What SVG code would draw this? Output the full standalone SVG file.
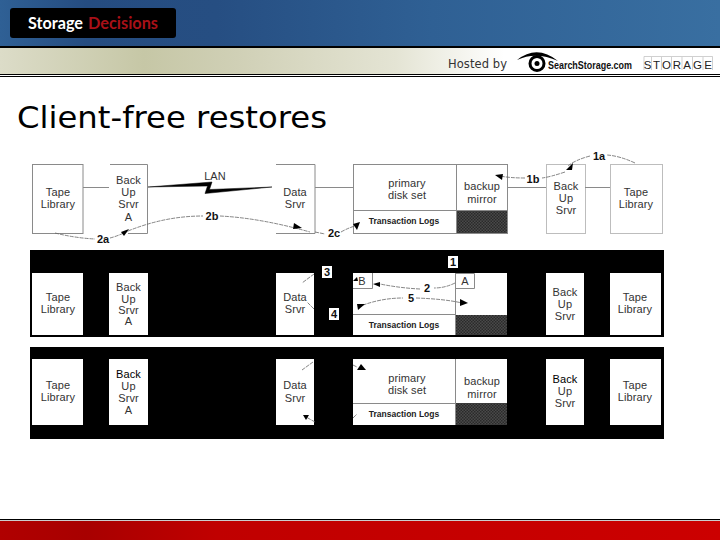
<svg xmlns="http://www.w3.org/2000/svg" width="720" height="540" viewBox="0 0 720 540">
<style>
.s{font-family:"Liberation Sans",Arial,sans-serif;font-size:11px;letter-spacing:.1px;fill:#333;text-anchor:middle}
.t{font-family:"Liberation Sans",Arial,sans-serif;font-size:8.500px;font-weight:bold;fill:#222;text-anchor:middle}
.l{font-family:"Liberation Sans",Arial,sans-serif;font-size:11px;font-weight:bold;fill:#111;text-anchor:middle}
.box{fill:#fff;stroke:#8a8a8a;stroke-width:1}
.pale{fill:#fff;stroke:#bdbdbd;stroke-width:1}
.wb{fill:#fff}
.ln{fill:none;stroke:#8a8a8a;stroke-width:1}
.da{fill:none;stroke:#666;stroke-width:.8;stroke-dasharray:4 1}
.ah{fill:#000}
</style>
<defs>
<linearGradient id="blue" x1="0" x2="1" y1="0" y2="0"><stop offset="0" stop-color="#2f6095"/><stop offset=".12" stop-color="#254c80"/><stop offset=".3" stop-color="#264e82"/><stop offset=".6" stop-color="#2f6094"/><stop offset="1" stop-color="#396fa1"/></linearGradient>
<linearGradient id="beige" x1="0" x2="1" y1="0" y2="0"><stop offset="0" stop-color="#dcdcc8"/><stop offset=".2" stop-color="#c6c7a6"/><stop offset=".33" stop-color="#d0d0b6"/><stop offset=".55" stop-color="#e4e4d4"/><stop offset=".7" stop-color="#fff"/></linearGradient>
<linearGradient id="red" x1="0" x2="1" y1="0" y2="0"><stop offset="0" stop-color="#b00000"/><stop offset=".12" stop-color="#a80000"/><stop offset=".3" stop-color="#c00000"/><stop offset="1" stop-color="#cc0000"/></linearGradient>
<pattern id="chk" width="3" height="3" patternUnits="userSpaceOnUse"><rect width="3" height="3" fill="#4a4a4a"/><rect width="1.500" height="1.500" fill="#2a2a2a"/><rect x="1.500" y="1.500" width="1.500" height="1.500" fill="#2a2a2a"/></pattern>
</defs>

<g id="header">
<rect x="0" y="0" width="720" height="46" fill="url(#blue)"/>
<rect x="0" y="46" width="720" height="2" fill="#000"/>
<rect x="0" y="48" width="720" height="26" fill="url(#beige)"/>
<rect x="0" y="74" width="720" height="1" fill="#000"/>
<rect x="0" y="76" width="720" height="1" fill="#000"/>
<rect x="10" y="8" width="166" height="30" rx="3" fill="#000"/>
<text x="28" y="29" font-family="Lato,'Liberation Sans',sans-serif" font-size="17" font-weight="bold" fill="#fff" textLength="55" lengthAdjust="spacingAndGlyphs">Storage</text>
<text x="88" y="29" font-family="Lato,'Liberation Sans',sans-serif" font-size="17" font-weight="bold" fill="#a81018" textLength="70" lengthAdjust="spacingAndGlyphs">Decisions</text>
<text x="448" y="68" font-family="'DejaVu Sans',sans-serif" font-size="11.500" fill="#333" textLength="59">Hosted by</text>
<path d="M517 60Q537 44 558 61Q536 51 517 60Z" fill="#000"/>
<circle cx="537" cy="63.500" r="7" fill="none" stroke="#000" stroke-width="3"/>
<circle cx="537" cy="63.500" r="2.500" fill="#000"/>
<text x="548" y="69" font-family="'Liberation Sans',sans-serif" font-size="10" font-weight="bold" fill="#111" textLength="84" lengthAdjust="spacingAndGlyphs">SearchStorage.com</text>
<path d="M644 70V56.500H712.500V70M651.500 57V70M661.500 57V70M671.500 57V70M682 57V70M692.500 57V70M703 57V70" fill="none" stroke="#bbb" stroke-width=".7"/>
<text x="647.500 656.500 666.500 677 687 697.500 708" y="68.500" font-family="'Liberation Sans',sans-serif" font-size="11.500" fill="#222" text-anchor="middle">STORAGE</text>
</g>

<text id="title" x="17" y="128" font-family="'DejaVu Sans',sans-serif" font-size="31" fill="#000" textLength="310" lengthAdjust="spacingAndGlyphs">Client-free restores</text>

<g id="bands">
<rect x="30" y="250" width="634" height="87" fill="#000"/>
<rect x="30" y="347" width="634" height="92" fill="#000"/>
</g>

<g id="row1">
<g id="r1-tape-a"><rect class="box" x="32.500" y="164.500" width="50.500" height="69"/><text class="s" x="58" y="196">Tape</text><text class="s" x="58" y="208">Library</text></g>
<g id="r1-back-a"><path class="ln" d="M110 164.500H147.500V233.500H128"/><text class="s" x="128.500" y="184">Back</text><text class="s" x="128.500" y="196">Up</text><text class="s" x="128.500" y="208">Srvr</text><text class="s" x="128.500" y="221">A</text></g>
<g id="r1-data"><path class="ln" d="M276 164.500H315V233.500H276"/><text class="s" x="295" y="196">Data</text><text class="s" x="295" y="208">Srvr</text></g>
<g id="r1-disk"><rect class="box" x="353.500" y="164.500" width="154" height="69"/><path class="ln" d="M456.500 164V233M353 210.500H507"/><rect x="457" y="211" width="50" height="22" fill="url(#chk)"/><text class="s" x="407" y="187">primary</text><text class="s" x="407" y="199">disk set</text><text class="s" x="482" y="190">backup</text><text class="s" x="482" y="203">mirror</text><text class="t" x="404" y="224">Transaction Logs</text></g>
<g id="r1-back-b"><rect class="pale" x="546.500" y="164.500" width="39" height="69"/><text class="s" x="566" y="190">Back</text><text class="s" x="566" y="202">Up</text><text class="s" x="566" y="214">Srvr</text></g>
<g id="r1-tape-b"><rect class="pale" x="610.500" y="164.500" width="52" height="69"/><text class="s" x="636" y="196">Tape</text><text class="s" x="636" y="208">Library</text></g>
<text class="s" x="215" y="180">LAN</text>
</g>

<g id="row2">
<g id="r2-tape-a"><rect class="wb" x="32" y="273" width="51" height="62"/><text class="s" x="58" y="301">Tape</text><text class="s" x="58" y="313">Library</text></g>
<g id="r2-back-a"><rect class="wb" x="109" y="273" width="39" height="62"/><text class="s" x="128.500" y="291">Back</text><text class="s" x="128.500" y="303">Up</text><text class="s" x="128.500" y="314">Srvr</text><text class="s" x="128.500" y="325">A</text></g>
<g id="r2-data"><rect class="wb" x="276" y="273" width="38" height="62"/><text class="s" x="295" y="301">Data</text><text class="s" x="295" y="313">Srvr</text></g>
<g id="r2-disk"><rect class="wb" x="353" y="273" width="154" height="62"/><path class="ln" d="M455.500 273V335"/><path class="ln" d="M353 314.500H456"/><rect x="456" y="315" width="51" height="20" fill="url(#chk)"/><text class="t" x="404" y="328">Transaction Logs</text></g>
<g id="r2-a"><path class="ln" d="M455.500 273.500H474.500V288.500H455.500"/><text class="s" x="465" y="285">A</text></g>
<g id="r2-b"><path class="ln" d="M353 288.500H372.500V273"/><text class="s" x="362" y="285">B</text></g>
<g id="r2-back-b"><rect class="wb" x="546" y="273" width="38" height="62"/><text class="s" x="565" y="296">Back</text><text class="s" x="565" y="308">Up</text><text class="s" x="565" y="320">Srvr</text></g>
<g id="r2-tape-b"><rect class="wb" x="610" y="273" width="51" height="62"/><text class="s" x="635" y="301">Tape</text><text class="s" x="635" y="313">Library</text></g>
</g>

<g id="row3">
<g id="r3-tape-a"><rect class="wb" x="32" y="359" width="51" height="66"/><text class="s" x="58" y="389">Tape</text><text class="s" x="58" y="401">Library</text></g>
<g id="r3-back-a"><rect class="wb" x="109" y="359" width="39" height="66"/><text class="s" x="128.500" y="378" style="fill:#000">Back</text><text class="s" x="128.500" y="390">Up</text><text class="s" x="128.500" y="402">Srvr</text><text class="s" x="128.500" y="414">A</text></g>
<g id="r3-data"><rect class="wb" x="276" y="359" width="38" height="66"/><text class="s" x="295" y="389">Data</text><text class="s" x="295" y="402">Srvr</text></g>
<g id="r3-disk"><rect class="wb" x="353" y="359" width="154" height="66"/><path class="ln" d="M455.500 359V425M353 403.500H456"/><rect x="456" y="403" width="51" height="22" fill="url(#chk)"/><text class="s" x="407" y="382">primary</text><text class="s" x="407" y="394">disk set</text><text class="s" x="482" y="385">backup</text><text class="s" x="482" y="398">mirror</text><text class="t" x="404" y="417">Transaction Logs</text></g>
<g id="r3-back-b"><rect class="wb" x="546" y="359" width="38" height="66"/><text class="s" x="565" y="383" style="fill:#000">Back</text><text class="s" x="565" y="395">Up</text><text class="s" x="565" y="407">Srvr</text></g>
<g id="r3-tape-b"><rect class="wb" x="610" y="359" width="51" height="66"/><text class="s" x="635" y="389">Tape</text><text class="s" x="635" y="401">Library</text></g>
</g>

<g id="connectors">
<path class="ln" d="M83 187.500H109M315 187.500H353M507 187.500H546M585 187.500H610"/>
<path d="M148 187L212 182L209.500 189.500L272 187L205 193.500L207.500 186Z" fill="#000" stroke="#000" stroke-width=".5"/>
<path class="da" d="M55 233Q75 238 95 239"/><path class="da" d="M110 238Q118 236 128 231"/><path class="ah" d="M121 232L129 229L124 236Z"/>
<path class="da" d="M128 231Q165 216 203 216"/><path class="da" d="M220 216Q260 218 310 232"/><path class="ah" d="M294 223L302 228L293 229Z"/>
<path class="da" d="M315 232L325 234"/><path class="da" d="M341 232Q348 228 355 226"/><path class="ah" d="M353 224L360 222L357 230Z"/>
<path class="da" d="M635 163Q620 156 607 155"/><path class="da" d="M590 156Q575 160 568 166"/><path class="ah" d="M566 170L573 163L572 170Z"/>
<path class="da" d="M565 172Q550 177 542 178"/><path class="da" d="M525 178Q510 178 500 176"/><path class="ah" d="M495 175L503 174L502 180Z"/>
<path class="da" d="M314 274L302 283M314 309L307 302"/>
<path class="da" d="M455 283Q445 288 434 288"/><path class="da" d="M420 289Q400 288 380 284"/><path class="ah" d="M373 284L380 282L380 287Z"/>
<path class="da" d="M358 307Q380 298 403 298"/><path class="da" d="M416 298Q445 299 462 303"/><path class="ah" d="M460 299L468 303L460 306Z"/><path class="ah" d="M357 304L365 304L358 310Z"/>
<path class="ah" d="M353 281L357 277L358 281Z"/>
<path class="da" d="M313 362L302 370M315 422L306 417"/><path class="ah" d="M303 415L309 415L306 420Z"/>
<path class="da" d="M353 365L357 367M353 418L357 414"/><path class="ah" d="M357 370L361 364L366 370Z"/>
</g>

<g id="labels">
<g id="l1a"><text class="l" x="599" y="159.500">1a</text></g>
<g id="l1b"><text class="l" x="533" y="182.500">1b</text></g>
<g id="l2a"><text class="l" x="103" y="243">2a</text></g>
<g id="l2b"><text class="l" x="212" y="219.500">2b</text></g>
<g id="l2c"><text class="l" x="334" y="237">2c</text></g>
<g id="l1"><rect x="448" y="256" width="10" height="12" fill="#fff"/><text class="l" x="453" y="266">1</text></g>
<g id="l3"><rect x="322" y="266" width="10" height="12" fill="#fff"/><text class="l" x="327" y="276">3</text></g>
<g id="l4"><rect x="329" y="308" width="10" height="12" fill="#fff"/><text class="l" x="334" y="318">4</text></g>
<text class="l" x="427" y="292">2</text>
<text class="l" x="411" y="302">5</text>
</g>

<g id="footer">
<rect x="0" y="519" width="720" height="1.200" fill="#000"/>
<rect x="0" y="521" width="720" height="19" fill="url(#red)"/>
</g>
</svg>
